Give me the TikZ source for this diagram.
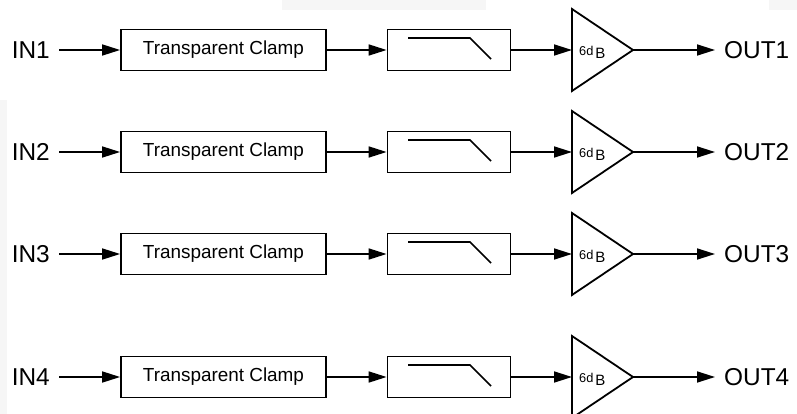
\documentclass[tikz,border=0pt]{standalone}
\usepackage{fontspec}
\setmainfont{Liberation Sans}
\usetikzlibrary{arrows.meta,calc}
\begin{document}
\begin{tikzpicture}[x=1pt,y=-1pt,
  boxline/.style={draw=black,line width=1.8pt},
  clampbox/.style={boxline,minimum width=205pt,minimum height=41pt,inner sep=0pt,font=\fontsize{18.9}{20}\selectfont},
  filtbox/.style={boxline,minimum width=123pt,minimum height=41pt,inner sep=0pt},
  iolabel/.style={inner sep=0pt,font=\fontsize{24.4}{26}\selectfont},
  conn/.style={line width=1.7pt,-{Triangle[length=18pt,width=11pt]}},
  gainsmall/.style={inner sep=0pt,anchor=base west,font=\fontsize{12.8}{14}\selectfont},
  gainbig/.style={inner sep=0pt,anchor=base west,font=\fontsize{15}{16}\selectfont}]
\useasboundingbox (0,0) rectangle (797,414);
\fill[gray!7] (282,0) rectangle (486,10);
\fill[gray!7] (769,0) rectangle (797,10);
\fill[gray!7] (0,100) rectangle (7,414);
\foreach \i/\y in {1/50,2/152,3/254,4/377}{
  \node[iolabel,anchor=east] (in\i) at (50,\y) {IN\i};
  \node[clampbox] (c\i) at (223.5,\y) {Transparent Clamp};
  \node[filtbox] (f\i) at (449,\y) {};
  \draw[line width=1.7pt] ($(f\i.center)+(-41,-12)$) -- ++(62,0) -- ++(21,21);
  \coordinate (a\i) at (572,\y);
  \coordinate (t\i) at (633,\y);
  \draw[boxline,line join=miter] ($(a\i)+(0,-41)$) -- (t\i) -- ($(a\i)+(0,41)$) -- cycle;
  \node[gainsmall] (g\i) at (579,\y+5.5) {6d};
  \node[gainbig] (b\i) at (g\i.base east) [xshift=1.5pt,yshift=-3pt] {B};
  \node[iolabel,anchor=west] (o\i) at (724,\y) {OUT\i};
  \draw[conn,shorten <=9pt] (in\i.east) -- (c\i.west);
  \draw[conn] (c\i.east) -- (f\i.west);
  \draw[conn] (f\i.east) -- (a\i);
  \draw[conn,shorten >=9pt] (t\i) -- (o\i.west);
}
\end{tikzpicture}
\end{document}
